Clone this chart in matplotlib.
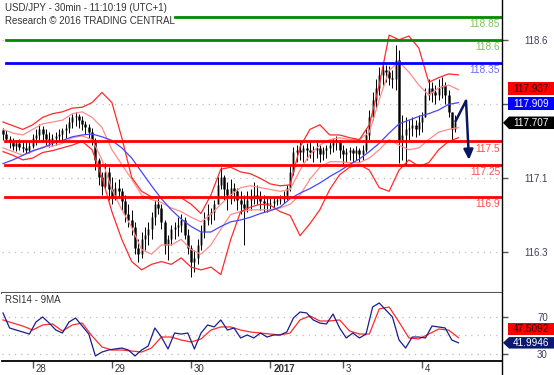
import numpy as np
import matplotlib
matplotlib.use("Agg")
import matplotlib.pyplot as plt
from matplotlib.patches import Polygon, Rectangle
from matplotlib.lines import Line2D
import matplotlib.transforms as mtransforms

plt.rcParams["font.family"] = ["Liberation Sans", "DejaVu Sans"]

# hourly bars, USD/JPY
first_open = 117.62
high = [117.64, 117.62, 117.56, 117.54, 117.52, 117.53, 117.51, 117.49, 117.50, 117.58,
        117.63, 117.69, 117.67, 117.63, 117.60, 117.58, 117.60, 117.63, 117.65, 117.69,
        117.76, 117.80, 117.82, 117.80, 117.77, 117.72, 117.69, 117.65, 117.54, 117.32,
        117.17, 117.27, 117.22, 117.11, 117.06, 117.09, 117.00, 116.92, 116.82, 116.76,
        116.63, 116.44, 116.52, 116.57, 116.63, 116.74, 116.87, 116.89, 116.82, 116.65,
        116.49, 116.60, 116.63, 116.68, 116.71, 116.68, 116.55, 116.38, 116.33, 116.44,
        116.60, 116.74, 116.82, 116.78, 116.87, 117.11, 117.22, 117.14, 117.06, 117.09,
        117.05, 117.00, 116.96, 116.92, 116.96, 116.98, 117.06, 117.03, 116.96, 116.92,
        116.89, 116.89, 116.90, 116.91, 116.92, 116.96, 117.03, 117.25, 117.44, 117.46,
        117.49, 117.46, 117.48, 117.50, 117.45, 117.49, 117.46, 117.44, 117.46, 117.52,
        117.54, 117.56, 117.52, 117.46, 117.43, 117.44, 117.43, 117.45, 117.43, 117.46,
        117.65, 117.84, 118.04, 118.17, 118.30, 118.36, 118.33, 118.32, 118.27, 118.54,
        118.49, 117.79, 117.76, 117.73, 117.76, 117.73, 117.79, 117.82, 118.08, 118.17,
        118.14, 118.11, 118.17, 118.20, 118.14, 118.06, 117.82, 117.79]
low = [117.51, 117.49, 117.43, 117.41, 117.40, 117.41, 117.39, 117.37, 117.38, 117.43,
       117.46, 117.52, 117.50, 117.46, 117.44, 117.45, 117.46, 117.50, 117.52, 117.54,
       117.59, 117.65, 117.67, 117.65, 117.62, 117.58, 117.54, 117.46, 117.19, 117.03,
       116.92, 117.00, 116.87, 116.82, 116.87, 116.89, 116.76, 116.63, 116.57, 116.49,
       116.28, 116.20, 116.24, 116.33, 116.38, 116.44, 116.60, 116.71, 116.55, 116.28,
       116.22, 116.38, 116.44, 116.48, 116.52, 116.44, 116.28, 116.03, 116.09, 116.17,
       116.33, 116.46, 116.60, 116.61, 116.65, 116.82, 116.98, 116.87, 116.76, 116.82,
       116.85, 116.76, 116.71, 116.38, 116.74, 116.76, 116.82, 116.82, 116.76, 116.74,
       116.74, 116.76, 116.78, 116.81, 116.82, 116.83, 116.87, 116.96, 117.14, 117.28,
       117.30, 117.28, 117.30, 117.32, 117.28, 117.32, 117.28, 117.30, 117.32, 117.36,
       117.39, 117.41, 117.32, 117.25, 117.28, 117.30, 117.28, 117.30, 117.28, 117.30,
       117.39, 117.52, 117.73, 117.86, 118.00, 118.11, 118.14, 118.11, 118.08, 118.06,
       117.27, 117.30, 117.25, 117.52, 117.56, 117.55, 117.57, 117.60, 117.76, 117.95,
       117.93, 117.90, 117.95, 117.97, 117.90, 117.76, 117.52, 117.60]
close = [117.58, 117.53, 117.49, 117.45, 117.48, 117.44, 117.43, 117.41, 117.45, 117.54,
         117.57, 117.63, 117.58, 117.53, 117.52, 117.54, 117.56, 117.58, 117.62, 117.65,
         117.71, 117.76, 117.78, 117.73, 117.69, 117.66, 117.60, 117.52, 117.30, 117.11,
         117.02, 117.17, 116.98, 116.89, 117.00, 116.96, 116.85, 116.71, 116.65, 116.57,
         116.35, 116.28, 116.44, 116.49, 116.55, 116.68, 116.82, 116.78, 116.63, 116.38,
         116.44, 116.55, 116.57, 116.60, 116.65, 116.49, 116.35, 116.20, 116.24, 116.38,
         116.52, 116.65, 116.71, 116.74, 116.82, 117.03, 117.11, 116.98, 116.92, 117.00,
         116.96, 116.87, 116.82, 116.78, 116.87, 116.89, 116.92, 116.89, 116.85, 116.83,
         116.82, 116.83, 116.85, 116.87, 116.88, 116.91, 117.00, 117.17, 117.39, 117.41,
         117.39, 117.43, 117.41, 117.39, 117.41, 117.43, 117.36, 117.41, 117.43, 117.46,
         117.50, 117.52, 117.41, 117.36, 117.39, 117.41, 117.37, 117.41, 117.36, 117.41,
         117.57, 117.76, 117.95, 118.08, 118.22, 118.27, 118.25, 118.19, 118.17, 118.38,
         117.52, 117.57, 117.63, 117.65, 117.68, 117.63, 117.71, 117.76, 118.00, 118.08,
         118.04, 118.00, 118.08, 118.11, 118.00, 117.82, 117.63, 117.71]

# indicators, read every 3 bars
band_step = 3
ma50 = [117.26, 117.30, 117.35, 117.40, 117.43, 117.48, 117.51, 117.55, 117.57, 117.58,
        117.55, 117.51, 117.43, 117.32, 117.17, 117.02, 116.88, 116.76, 116.66, 116.58,
        116.52, 116.52, 116.58, 116.63, 116.65, 116.68, 116.72, 116.75, 116.79, 116.88,
        116.94, 116.99, 117.05, 117.12, 117.18, 117.25, 117.31, 117.39, 117.48, 117.59,
        117.69, 117.73, 117.77, 117.80, 117.84, 117.90, 117.92]
bb_upper = [117.71, 117.67, 117.63, 117.68, 117.76, 117.80, 117.82, 117.86, 117.87, 117.92,
            118.03, 117.92, 117.54, 117.11, 116.96, 116.90, 116.89, 116.90, 116.89, 116.82,
            116.72, 116.92, 117.20, 117.22, 117.17, 117.15, 117.10, 117.04, 117.02, 117.03,
            117.44, 117.63, 117.68, 117.57, 117.57, 117.54, 117.52, 117.68, 118.11, 118.65,
            118.60, 118.64, 118.51, 118.14, 118.19, 118.23, 118.22]
bb_lower = [117.39, 117.35, 117.30, 117.32, 117.38, 117.40, 117.43, 117.46, 117.50, 117.41,
            117.11, 116.74, 116.44, 116.20, 116.11, 116.17, 116.20, 116.17, 116.24, 116.14,
            116.11, 116.14, 116.06, 116.44, 116.74, 116.79, 116.82, 116.81, 116.74, 116.70,
            116.48, 116.61, 116.76, 116.98, 117.14, 117.22, 117.25, 117.19, 117.00, 116.96,
            117.19, 117.30, 117.23, 117.27, 117.41, 117.50, 117.54]
env_upper = [117.63, 117.59, 117.57, 117.63, 117.69, 117.71, 117.73, 117.80, 117.82, 117.76,
             117.65, 117.41, 117.25, 117.09, 116.92, 116.87, 116.84, 116.78, 116.74, 116.68,
             116.63, 116.71, 116.82, 116.92, 117.00, 117.02, 117.00, 116.98, 116.96, 116.98,
             117.19, 117.36, 117.46, 117.52, 117.54, 117.52, 117.52, 117.60, 117.95, 118.27,
             118.36, 118.25, 118.11, 118.00, 118.08, 118.11, 118.06]
env_lower = [117.43, 117.39, 117.35, 117.39, 117.44, 117.45, 117.48, 117.54, 117.56, 117.52,
             117.30, 116.98, 116.76, 116.57, 116.33, 116.28, 116.38, 116.38, 116.44, 116.33,
             116.28, 116.38, 116.55, 116.71, 116.74, 116.76, 116.76, 116.76, 116.78, 116.82,
             116.92, 117.09, 117.22, 117.28, 117.28, 117.27, 117.27, 117.32, 117.41, 117.52,
             117.46, 117.41, 117.43, 117.52, 117.60, 117.63, 117.65]

# RSI(14) every 2 bars, its 9MA every 3 bars
rsi_step = 2
rsi14 = [74.0, 57.9, 55.7, 53.6, 51.4, 64.3, 69.7, 63.2, 55.7, 52.5,
         64.3, 68.6, 60.0, 51.4, 27.9, 32.1, 34.3, 35.4, 36.4, 34.3,
         27.9, 34.3, 38.6, 57.9, 48.2, 35.4, 52.5, 51.4, 52.5, 35.4,
         52.5, 61.1, 59.0, 66.5, 55.7, 57.9, 47.2, 50.4, 47.2, 52.5,
         48.2, 50.4, 50.4, 53.6, 68.6, 75.0, 74.0, 66.5, 63.2, 62.2,
         72.9, 57.9, 47.2, 52.5, 47.2, 51.4, 80.4, 84.7, 77.2, 69.7,
         45.0, 36.4, 48.2, 48.2, 47.2, 60.0, 59.0, 57.9, 45.0, 41.99]
rsi_ma9 = [66.5, 63.2, 60.0, 55.7, 61.1, 62.2, 54.7, 61.1, 63.2, 49.3,
           37.5, 34.3, 34.3, 33.2, 32.1, 36.4, 48.2, 48.2, 45.0, 42.9,
           46.1, 55.7, 59.0, 59.0, 55.7, 53.6, 52.5, 51.4, 50.4, 52.5,
           66.5, 70.8, 65.4, 65.4, 66.5, 54.7, 51.4, 51.4, 78.3, 80.4,
           64.3, 47.2, 46.1, 51.4, 56.8, 55.7, 47.51]

# analyst levels
resistances = [118.85, 118.6, 118.35]
supports = [117.5, 117.25, 116.9]
level_colors = ["#008a00", "#008a00", "#0000ff"]
level_text_colors = ["#80c060", "#80c060", "#6a6aff"]

# forecast arrow (bar index, price)
arrow_x = [137, 140.3, 141.2]
arrow_y = [117.71, 117.94, 117.30]

day_start = [9, 33, 57, 81, 103, 127]
day_labels = ["28", "29", "30", "2017", "3", "4"]
price_ticks = [116.3, 117.1, 117.9, 118.6]
price_labels = ["116.3", "117.1", "", "118.6"]  # 117.9 sits under the value boxes

last_price = 117.707
last_ma = 117.909
last_mid = 117.937
last_rsi = 41.9946
last_rsi_ma = 47.5092

W, H = 554, 375
fig = plt.figure(figsize=(W / 100, H / 100), dpi=100, facecolor="white")
ax = fig.add_axes([2 / W, 82 / H, 500 / W, 293 / H])
rax = fig.add_axes([2 / W, 14 / H, 500 / W, 68 / H])

xlim = (-0.3, 151.2)
ax.set_xlim(*xlim)
rax.set_xlim(*xlim)
ax.set_ylim(115.86, 119.03)
rax.set_ylim(22.5, 95.4)

# candles
high = np.array(high)
low = np.array(low)
close = np.array(close)
opens = np.r_[first_open, close[:-1]]
bx = np.arange(len(close))
up = close >= opens
ax.vlines(bx[up], opens[up], close[up], color="#8a8a8a", lw=1.9, zorder=2)
ax.vlines(bx[~up], close[~up], opens[~up], color="#222222", lw=1.9, zorder=2)
ax.vlines(bx, low, high, color="black", lw=0.7, zorder=2)

# indicators
band_x = np.arange(len(ma50)) * band_step
ax.plot(band_x, env_upper, color="#ff8c8c", lw=0.9, zorder=3)
ax.plot(band_x, env_lower, color="#ff8c8c", lw=0.9, zorder=3)
ax.plot(band_x, bb_upper, color="#ff2a2a", lw=0.9, zorder=3)
ax.plot(band_x, bb_lower, color="#ff2a2a", lw=0.9, zorder=3)
ax.plot(band_x, ma50, color="#4646ff", lw=0.9, zorder=3)

# levels
for lvl, c, tc, xmin in zip(resistances, level_colors, level_text_colors, [0.346, 0.008, 0.008]):
    ax.axhline(lvl, xmin=xmin, xmax=1, color=c, lw=2, zorder=4)
    ax.annotate(f"{lvl:g}", xy=(0.996, lvl), xycoords=("axes fraction", "data"),
                xytext=(0, -5.2), textcoords="offset points", ha="right", va="center",
                fontsize=7.3, color=tc, zorder=5)
for lvl in supports:
    ax.axhline(lvl, xmin=0.006, xmax=1, color="#ff0000", lw=2, zorder=4)
    ax.annotate(f"{lvl:g}", xy=(0.996, lvl), xycoords=("axes fraction", "data"),
                xytext=(0, -5.2), textcoords="offset points", ha="right", va="center",
                fontsize=7.3, color="#ff4d4d", zorder=5)

# arrow
navy = "#0b1660"
ax.plot(arrow_x[:2], arrow_y[:2], color=navy, lw=1.8, zorder=6, solid_capstyle="butt")
ax.annotate("", xy=(arrow_x[2], arrow_y[2]), xytext=(arrow_x[1], arrow_y[1]),
            arrowprops=dict(arrowstyle="-|>,head_length=0.6,head_width=0.28", color=navy,
                            lw=1.8, shrinkA=0, shrinkB=0, mutation_scale=10), zorder=6)

# main axis styling
for s in ["left", "top", "right"]:
    ax.spines[s].set_visible(False)
ax.spines["bottom"].set_color("#555555")
ax.spines["bottom"].set_linewidth(1.5)
ax.set_xticks([])
ax.yaxis.tick_right()
ax.set_yticks(price_ticks)
ax.set_yticklabels(price_labels)
ax.tick_params(axis="y", length=4, width=1, color="#555555", labelsize=7,
               labelcolor="#404060", pad=29)
for lbl in ax.get_yticklabels():
    lbl.set_ha("right")
ax.yaxis.grid(True, ls=(0, (1, 4)), color="#bdbdbd", lw=0.9)
ax.set_axisbelow(True)

# RSI panel
rsi_x = np.arange(len(rsi14)) * rsi_step
ma_x = np.arange(len(rsi_ma9)) * band_step
rax.plot(ma_x, rsi_ma9, color="#ff2a2a", lw=0.9, zorder=3)
rax.plot(rsi_x, rsi14, color="#1c1c8c", lw=0.9, zorder=4)
for g in [30, 50, 70]:
    rax.axhline(g, color="#bdbdbd", lw=0.9, ls=(0, (1, 4)), zorder=1)
for s in ["left", "top", "right"]:
    rax.spines[s].set_visible(False)
rax.spines["bottom"].set_color("black")
rax.spines["bottom"].set_linewidth(1.3)
rax.yaxis.tick_right()
rax.set_yticks([30, 70])
rax.tick_params(axis="y", length=4, width=1, color="#555555", labelsize=7,
                labelcolor="#404060", pad=29)
for lbl in rax.get_yticklabels():
    lbl.set_ha("right")
rax.set_xticks(day_start)
rax.set_xticklabels(day_labels)
rax.tick_params(axis="x", direction="out", length=5, width=1, color="#555555",
                labelsize=7, labelcolor="#333333", pad=-2.5)
shift = mtransforms.ScaledTranslation(3 / 100, 0, fig.dpi_scale_trans)
for lbl in rax.get_xticklabels():
    lbl.set_ha("left")
    lbl.set_transform(lbl.get_transform() + shift)
    if lbl.get_text() == "2017":
        lbl.set_fontweight("bold")

# right border line
fig.add_artist(Line2D([502 / W, 502 / W], [0, 1], transform=fig.transFigure,
                      color="black", lw=1))

# header texts
fig.text(5 / W, 1 - 8 / H, "USD/JPY - 30min - 11:10:19 (UTC+1)", fontsize=7,
         color="#333333", va="center", ha="left")
fig.text(5 / W, 1 - 20.5 / H, "Research \u00a9 2016 TRADING CENTRAL", fontsize=7,
         color="#333333", va="center", ha="left")
fig.text(5 / W, 1 - 300 / H, "RSI14 - 9MA", fontsize=7, color="#333333",
         va="center", ha="left")


def value_box(axis, value, shift_px, face, txt_color, arrow=False, h_px=12.5):
    yc = (axis.transData.transform((0, value))[1] + shift_px) / H
    h = h_px / H
    x0 = 508 / W
    if arrow:
        pts = [(503 / W, yc), (509 / W, yc + h / 2), (1, yc + h / 2),
               (1, yc - h / 2), (509 / W, yc - h / 2)]
        patch = Polygon(pts, closed=True, transform=fig.transFigure, fc=face, ec="none")
    else:
        patch = Rectangle((x0, yc - h / 2), 1 - x0, h, transform=fig.transFigure,
                          fc=face, ec="none")
    fig.add_artist(patch)
    fig.text(513 / W, yc, f"{value}", fontsize=7.2, color=txt_color, va="center",
             ha="left")


value_box(ax, last_mid, 12.5, "#ff0000", "#2a0000")
value_box(ax, last_ma, 0, "#0000ff", "white")
value_box(ax, last_price, -0.5, "#000000", "white", arrow=True)
value_box(rax, last_rsi_ma, 8.7, "#ff0000", "#2a0000")
value_box(rax, last_rsi, 0, "#0b1a70", "white", arrow=True, h_px=11.5)

fig.savefig("out.png", dpi=100)
